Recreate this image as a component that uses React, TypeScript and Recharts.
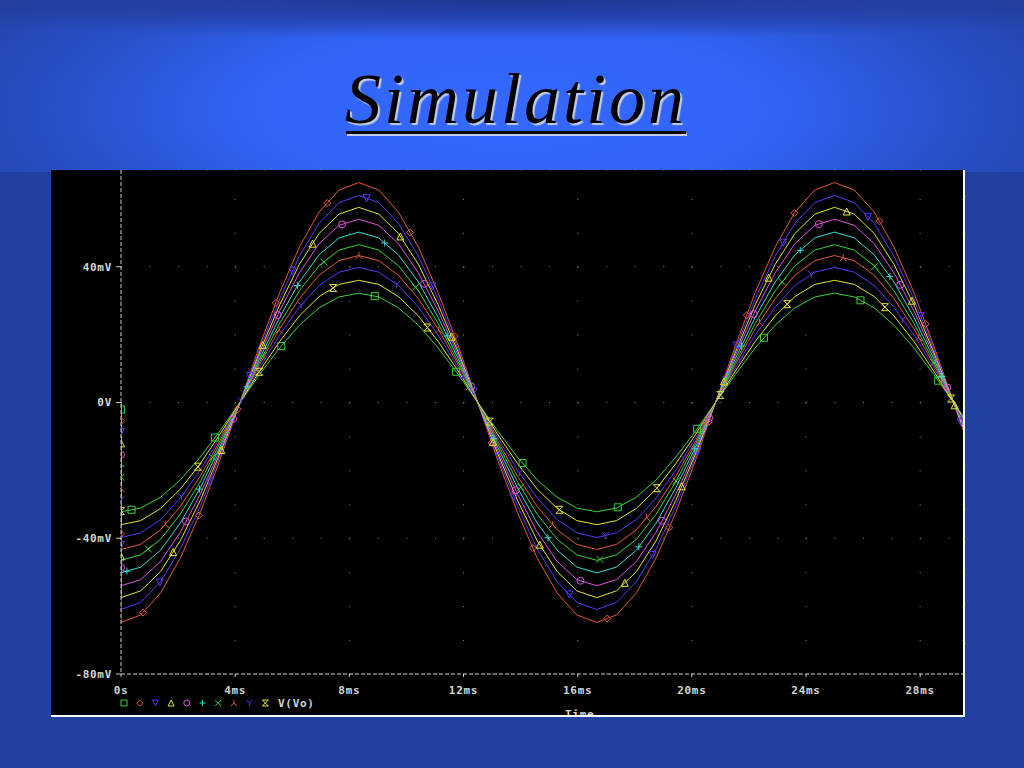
import React from 'react';
import { LineChart, Line, XAxis, YAxis, CartesianGrid } from 'recharts';

// ---------- data ----------
const TIME = [0, 0, 0.69, 1.39, 2.08, 2.78, 3.47, 4.17, 4.86, 5.56, 6.25, 6.94, 7.64, 8.33, 9.03, 9.72, 10.42, 11.11, 11.81, 12.5, 13.19, 13.89, 14.58, 15.28, 15.97, 16.67, 17.36, 18.06, 18.75, 19.44, 20.14, 20.83, 21.53, 22.22, 22.92, 23.61, 24.31, 25, 25.69, 26.39, 27.08, 27.78, 28.47, 29.17, 29.5];

const V_SQUARE = [0, -32.2, -31.1, -27.9, -22.8, -16.1, -8.3, 0, 8.3, 16.1, 22.8, 27.9, 31.1, 32.2, 31.1, 27.9, 22.8, 16.1, 8.3, 0, -8.3, -16.1, -22.8, -27.9, -31.1, -32.2, -31.1, -27.9, -22.8, -16.1, -8.3, 0, 8.3, 16.1, 22.8, 27.9, 31.1, 32.2, 31.1, 27.9, 22.8, 16.1, 8.3, 0, -4.0];
const V_DIAMOND = [0, -64.8, -62.6, -56.1, -45.8, -32.4, -16.8, 0, 16.8, 32.4, 45.8, 56.1, 62.6, 64.8, 62.6, 56.1, 45.8, 32.4, 16.8, 0, -16.8, -32.4, -45.8, -56.1, -62.6, -64.8, -62.6, -56.1, -45.8, -32.4, -16.8, 0, 16.8, 32.4, 45.8, 56.1, 62.6, 64.8, 62.6, 56.1, 45.8, 32.4, 16.8, 0, -8.1];
const V_TDOWN = [0, -61.0, -58.9, -52.8, -43.1, -30.5, -15.8, 0, 15.8, 30.5, 43.1, 52.8, 58.9, 61.0, 58.9, 52.8, 43.1, 30.5, 15.8, 0, -15.8, -30.5, -43.1, -52.8, -58.9, -61.0, -58.9, -52.8, -43.1, -30.5, -15.8, 0, 15.8, 30.5, 43.1, 52.8, 58.9, 61.0, 58.9, 52.8, 43.1, 30.5, 15.8, 0, -7.6];
const V_TUP = [0, -57.5, -55.5, -49.8, -40.7, -28.8, -14.9, 0, 14.9, 28.8, 40.7, 49.8, 55.5, 57.5, 55.5, 49.8, 40.7, 28.8, 14.9, 0, -14.9, -28.8, -40.7, -49.8, -55.5, -57.5, -55.5, -49.8, -40.7, -28.8, -14.9, 0, 14.9, 28.8, 40.7, 49.8, 55.5, 57.5, 55.5, 49.8, 40.7, 28.8, 14.9, 0, -7.2];
const V_CIRCLE = [0, -54.0, -52.2, -46.8, -38.2, -27.0, -14.0, 0, 14.0, 27.0, 38.2, 46.8, 52.2, 54.0, 52.2, 46.8, 38.2, 27.0, 14.0, 0, -14.0, -27.0, -38.2, -46.8, -52.2, -54.0, -52.2, -46.8, -38.2, -27.0, -14.0, 0, 14.0, 27.0, 38.2, 46.8, 52.2, 54.0, 52.2, 46.8, 38.2, 27.0, 14.0, 0, -6.8];
const V_PLUS = [0, -50.2, -48.5, -43.5, -35.5, -25.1, -13.0, 0, 13.0, 25.1, 35.5, 43.5, 48.5, 50.2, 48.5, 43.5, 35.5, 25.1, 13.0, 0, -13.0, -25.1, -35.5, -43.5, -48.5, -50.2, -48.5, -43.5, -35.5, -25.1, -13.0, 0, 13.0, 25.1, 35.5, 43.5, 48.5, 50.2, 48.5, 43.5, 35.5, 25.1, 13.0, 0, -6.3];
const V_CROSS = [0, -46.5, -44.9, -40.3, -32.9, -23.3, -12.0, 0, 12.0, 23.3, 32.9, 40.3, 44.9, 46.5, 44.9, 40.3, 32.9, 23.3, 12.0, 0, -12.0, -23.3, -32.9, -40.3, -44.9, -46.5, -44.9, -40.3, -32.9, -23.3, -12.0, 0, 12.0, 23.3, 32.9, 40.3, 44.9, 46.5, 44.9, 40.3, 32.9, 23.3, 12.0, 0, -5.8];
const V_LAMBDA = [0, -43.3, -41.8, -37.5, -30.6, -21.7, -11.2, 0, 11.2, 21.7, 30.6, 37.5, 41.8, 43.3, 41.8, 37.5, 30.6, 21.7, 11.2, 0, -11.2, -21.7, -30.6, -37.5, -41.8, -43.3, -41.8, -37.5, -30.6, -21.7, -11.2, 0, 11.2, 21.7, 30.6, 37.5, 41.8, 43.3, 41.8, 37.5, 30.6, 21.7, 11.2, 0, -5.4];
const V_YSTEM = [0, -39.8, -38.4, -34.5, -28.1, -19.9, -10.3, 0, 10.3, 19.9, 28.1, 34.5, 38.4, 39.8, 38.4, 34.5, 28.1, 19.9, 10.3, 0, -10.3, -19.9, -28.1, -34.5, -38.4, -39.8, -38.4, -34.5, -28.1, -19.9, -10.3, 0, 10.3, 19.9, 28.1, 34.5, 38.4, 39.8, 38.4, 34.5, 28.1, 19.9, 10.3, 0, -5.0];
const V_XBAR = [0, -36.0, -34.8, -31.2, -25.5, -18.0, -9.3, 0, 9.3, 18.0, 25.5, 31.2, 34.8, 36.0, 34.8, 31.2, 25.5, 18.0, 9.3, 0, -9.3, -18.0, -25.5, -31.2, -34.8, -36.0, -34.8, -31.2, -25.5, -18.0, -9.3, 0, 9.3, 18.0, 25.5, 31.2, 34.8, 36.0, 34.8, 31.2, 25.5, 18.0, 9.3, 0, -4.5];

const X_TICKS = [0, 4, 8, 12, 16, 20, 24, 28];
const X_LABELS = ['0s', '4ms', '8ms', '12ms', '16ms', '20ms', '24ms', '28ms'];
const Y_TICKS = [-80, -40, 0, 40];
const Y_LABELS = ['-80mV', '-40mV', '0V', '40mV'];
const TRACE_NAME = 'V(Vo)';
const X_TITLE = 'Time';
const TITLE = 'Simulation';

// ---------- styles ----------
const SERIES = [
  { key: 'sq', values: V_SQUARE, shape: 'square', color: '#3cd23c' },
  { key: 'di', values: V_DIAMOND, shape: 'diamond', color: '#e0583c' },
  { key: 'td', values: V_TDOWN, shape: 'tdown', color: '#5a36f2' },
  { key: 'tu', values: V_TUP, shape: 'tup', color: '#e6e632' },
  { key: 'ci', values: V_CIRCLE, shape: 'circle', color: '#e052e0' },
  { key: 'pl', values: V_PLUS, shape: 'plus', color: '#3cdcd2' },
  { key: 'cr', values: V_CROSS, shape: 'cross', color: '#3cd23c' },
  { key: 'la', values: V_LAMBDA, shape: 'lambda', color: '#e0583c' },
  { key: 'ys', values: V_YSTEM, shape: 'ystem', color: '#5a36f2' },
  { key: 'xb', values: V_XBAR, shape: 'xbar', color: '#e6e632' },
];

const DATA = TIME.map((t, i) => {
  const row: Record<string, number> = { t };
  SERIES.forEach((s) => { row[s.key] = s.values[i]; });
  return row;
});

const MONO = '"DejaVu Sans Mono", monospace';
const TEXT_COLOR = '#d4d4d4';
const MARK_STEP = 113;
const MARK_START = 7;

function markerPath(shape: string, x: number, y: number, s: number) {
  switch (shape) {
    case 'square': return `M${x - s},${y - s}H${x + s}V${y + s}H${x - s}Z`;
    case 'diamond': return `M${x},${y - s}L${x + s},${y}L${x},${y + s}L${x - s},${y}Z`;
    case 'tdown': return `M${x - s},${y - s}H${x + s}L${x},${y + s}Z`;
    case 'tup': return `M${x},${y - s}L${x + s},${y + s}H${x - s}Z`;
    case 'plus': return `M${x - s},${y}H${x + s}M${x},${y - s}V${y + s}`;
    case 'cross': return `M${x - s},${y - s}L${x + s},${y + s}M${x + s},${y - s}L${x - s},${y + s}`;
    case 'lambda': return `M${x},${y - s}V${y}L${x - s},${y + s}M${x},${y}L${x + s},${y + s}`;
    case 'ystem': return `M${x - s},${y - s}L${x},${y}L${x + s},${y - s}M${x},${y}V${y + s}`;
    case 'xbar': return `M${x - s},${y - s}H${x + s}M${x - s},${y + s}H${x + s}M${x - s},${y - s}L${x + s},${y + s}M${x + s},${y - s}L${x - s},${y + s}`;
    default: return '';
  }
}

function Marker({ shape, x, y, color, s = 3.5 }: { shape: string; x: number; y: number; color: string; s?: number }) {
  if (shape === 'circle') {
    return <circle cx={x} cy={y} r={s} fill="none" stroke={color} strokeWidth={1} />;
  }
  return <path d={markerPath(shape, x, y, s)} fill="none" stroke={color} strokeWidth={1} />;
}

// markers placed at regular distances along each trace (like the simulator does)
function makeDot(si: number) {
  const st = { px: 0, py: 0, acc: 0, next: 0 };
  const s = SERIES[si];
  return (p: any) => {
    const { cx, cy, index } = p;
    const out: React.ReactNode[] = [];
    if (index === 0 || cx == null) {
      st.px = cx; st.py = cy; st.acc = 0; st.next = MARK_START + (si * MARK_STEP) / SERIES.length;
    } else {
      const dx = cx - st.px;
      const dy = cy - st.py;
      const L = Math.hypot(dx, dy);
      while (L > 0 && st.next <= st.acc + L) {
        const f = (st.next - st.acc) / L;
        out.push(<Marker key={out.length} shape={s.shape} x={st.px + f * dx} y={st.py + f * dy} color={s.color} />);
        st.next += MARK_STEP;
      }
      st.acc += L; st.px = cx; st.py = cy;
    }
    return <g key={`m-${si}-${index}`}>{out}</g>;
  };
}

const DOTS = SERIES.map((_, i) => makeDot(i));

export default function App() {
  return (
    <div style={{ position: 'fixed', left: 0, top: 0, width: 1024, height: 768, overflow: 'hidden', background: '#2141a0' }}>
      <div style={{ position: 'absolute', left: 0, top: 0, width: 1024, height: 172,
        background: 'radial-gradient(ellipse 600px 200px at 512px 110px, #3468ff 0%, #3163f5 45%, #2950c8 75%, #2344aa 100%)' }} />
      <div style={{ position: 'absolute', left: 0, top: 0, width: 1024, height: 40,
        background: 'radial-gradient(ellipse 700px 40px at 512px 0px, rgba(30,52,140,0.95) 0%, rgba(30,52,140,0.6) 50%, rgba(30,52,140,0) 100%)' }} />
      <div style={{ position: 'absolute', left: 0, width: 1032, top: 64, textAlign: 'center',
        fontFamily: '"Liberation Serif", serif', fontStyle: 'italic', fontSize: 72, lineHeight: '71px',
        letterSpacing: 3, color: '#000', textShadow: '2px 2px 1px #c4cce8' }}>{TITLE}</div>
      <div style={{ position: 'absolute', left: 346, top: 131, width: 340, height: 3, background: '#000',
        boxShadow: '1px 2px 0 #c4cce8' }} />

      <div style={{ position: 'absolute', left: 51, top: 170, width: 912, height: 545, background: '#000',
        borderRight: '2px solid #fff', borderBottom: '2px solid #fff', overflow: 'hidden' }}>
        <LineChart width={912} height={545} data={DATA} margin={{ top: 0, right: 0, bottom: 0, left: 0 }}>
          <CartesianGrid vertical={false} stroke="#8c8c8c" strokeDasharray="1 27.54" />
          <CartesianGrid horizontal={false} stroke="#8c8c8c" strokeDasharray="1 32.94" strokeDashoffset={-28.85} />
          <XAxis dataKey="t" type="number" domain={[0, 29.5]} ticks={X_TICKS} allowDataOverflow
            tickFormatter={(v: number) => X_LABELS[X_TICKS.indexOf(v)]} height={41}
            axisLine={{ stroke: '#c8c8c8', strokeDasharray: '4 2' }} tickLine={{ stroke: '#c8c8c8' }}
            tickSize={3} tickMargin={9}
            tick={{ fill: TEXT_COLOR, fontSize: 11, fontFamily: MONO, fontWeight: 'bold', letterSpacing: 0.7 }} />
          <YAxis type="number" domain={[-80, 68.5]} ticks={Y_TICKS} allowDataOverflow width={70}
            tickFormatter={(v: number) => Y_LABELS[Y_TICKS.indexOf(v)]}
            axisLine={{ stroke: '#c8c8c8', strokeDasharray: '4 2' }} tickLine={{ stroke: '#c8c8c8' }}
            tickSize={5} tickMargin={4}
            tick={{ fill: TEXT_COLOR, fontSize: 11, fontFamily: MONO, fontWeight: 'bold', letterSpacing: 0.7 }} />
          {SERIES.map((s, i) => (
            <Line key={s.key} dataKey={s.key} type="linear" stroke={s.color} strokeWidth={1}
              dot={DOTS[i]} activeDot={false} isAnimationActive={false} />
          ))}
        </LineChart>
        <div style={{ position: 'absolute', left: 514, top: 539, fontFamily: MONO, fontWeight: 'bold', fontSize: 11,
          letterSpacing: 0.7, color: TEXT_COLOR, lineHeight: '11px' }}>{X_TITLE}</div>
        <svg width={260} height={16} style={{ position: 'absolute', left: 65, top: 525 }}>
          {SERIES.map((s, i) => (
            <Marker key={s.key} shape={s.shape} x={8 + i * 15.7} y={8} color={s.color} s={3} />
          ))}
          <text x={162} y={12} fill={TEXT_COLOR} fontFamily={MONO} fontWeight="bold" fontSize={11} letterSpacing={0.7}>{TRACE_NAME}</text>
        </svg>
      </div>
    </div>
  );
}
